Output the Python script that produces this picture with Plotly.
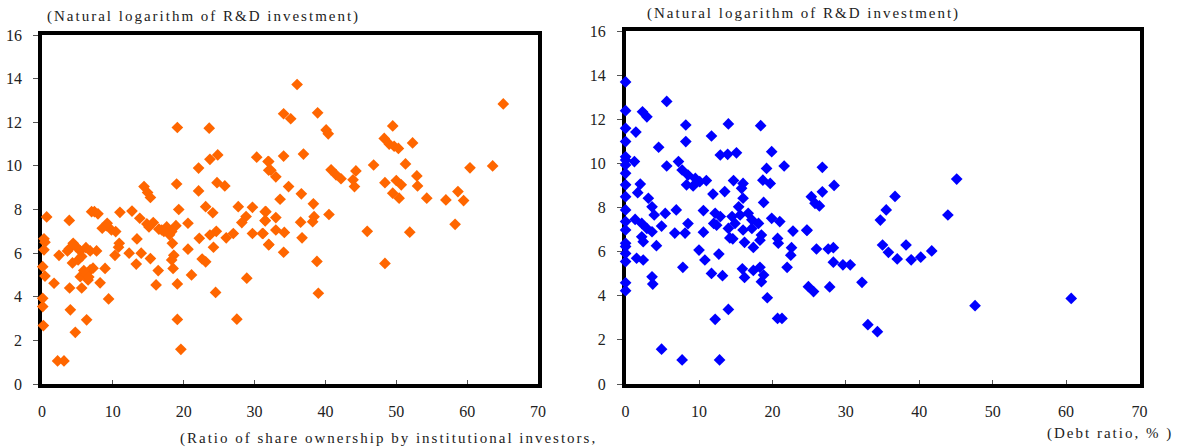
import plotly.graph_objects as go

# Left panel: institutional ownership ratio (%) vs ln(R&D investment)
own_x = [
    19.1, 23.6, 24.8, 23.7, 22.1, 30.3, 31.9, 32.0, 19.0, 22.1, 14.4, 14.9, 15.3,
    24.7, 25.8, 19.3, 23.1, 24.1, 27.7, 29.7, 28.8, 28.2, 31.5, 31.5, 32.0, 29.7,
    31.1, 27.0, 26.0, 24.6, 23.7, 22.2, 24.2, 20.6, 20.6, 21.1, 22.6, 23.1, 24.5,
    28.9, 27.5, 19.1, 19.6, 19.1, 18.5, 18.6, 18.3, 18.4, 16.9, 17.6, 18.3, 18.9,
    18.0, 15.7, 14.8, 15.1, 13.8, 12.7, 11.0, 13.4, 14.0, 15.3, 13.3, 16.4, 16.1,
    10.9, 10.8, 10.3, 9.8, 10.4, 9.1, 8.5, 9.2, 7.0, 7.9, 3.85, 0.66, 0.28, 0.42,
    0.28, 0.1, 0.42, 0.1, 0.1, 0.19, 2.2, 3.1, 1.7, 2.4, 3.85, 4.4, 3.6, 5.4, 6.2,
    6.8, 7.7, 4.3, 5.1, 5.6, 3.9, 5.6, 5.4, 6.1, 6.8, 7.2, 8.2, 6.5, 8.9, 9.4, 4.0,
    6.3, 4.7, 7.4, 5.9, 4.8, 6.6, 16.5, 17.2, 12.3,
    36.0, 34.1, 35.1, 38.9, 40.1, 40.4, 65.1, 49.5, 48.3, 49.0, 49.7, 50.3, 52.3,
    34.1, 36.9, 32.0, 32.3, 33.0, 34.8, 36.6, 33.6, 38.3, 31.6, 33.0, 31.5, 33.0,
    34.2, 31.2, 36.5, 38.4, 38.2, 40.5, 36.7, 32.0, 34.1, 38.8, 39.0, 46.8, 40.8,
    41.5, 42.2, 44.3, 43.9, 44.1, 51.3, 52.9, 53.0, 48.4, 50.0, 50.7, 49.5, 50.4,
    54.3, 57.0, 58.7, 59.5, 60.4, 63.6, 58.3, 45.9, 51.9, 48.4,
]
own_y = [
    11.76, 11.73, 10.5, 10.3, 9.9, 10.4, 10.2, 9.8, 9.17, 8.85, 9.05, 8.78, 8.55,
    9.23, 9.08, 8.0, 8.13, 7.85, 8.13, 8.1, 7.68, 7.4, 7.9, 7.5, 6.4, 6.9,
    6.9, 6.9, 6.7, 7.0, 6.83, 6.68, 6.27, 7.37, 6.18, 5.0, 5.73, 5.6, 4.2,
    4.85, 2.97, 2.96, 1.59, 4.59, 5.3, 5.9, 5.69, 6.45, 7.06, 7.2, 6.99, 7.26,
    6.84, 7.4, 7.34, 7.2, 7.6, 7.93, 7.87, 6.65, 6.0, 5.75, 5.5, 5.2, 4.54,
    6.45, 6.27, 5.9, 7.06, 6.99, 7.26, 7.14, 7.37, 7.9, 7.8, 7.5, 7.66, 6.66, 6.5,
    6.15, 5.38, 4.95, 3.93, 3.55, 2.68, 1.06, 1.06, 4.62, 5.9, 6.2, 6.45, 6.1, 6.1, 6.25,
    6.1, 6.1, 5.55, 5.69, 5.85, 4.4, 4.4, 4.92, 5.07, 5.23, 5.31, 4.64, 4.77, 5.3, 3.9, 3.4,
    2.94, 2.37, 7.9, 5.2, 6.3, 4.9, 7.1, 7.0, 6.0,
    13.73, 12.39, 12.16, 12.43, 11.65, 11.47, 12.84, 11.83, 11.26, 11.0, 10.9, 10.8, 11.05,
    10.45, 10.54, 10.2, 9.8, 9.5, 9.05, 8.72, 8.47, 8.26, 7.9, 7.63, 7.48, 7.06,
    6.95, 6.9, 7.42, 7.67, 7.44, 7.77, 6.7, 6.38, 6.04, 5.62, 4.16, 10.04, 9.82,
    9.59, 9.41, 9.77, 9.36, 9.05, 10.09, 9.54, 9.08, 9.23, 9.33, 9.13, 8.75, 8.52,
    8.52, 8.44, 8.82, 8.41, 9.91, 10.0, 7.32, 7.0, 6.96, 5.53,
]

# Right panel: debt ratio (%) vs ln(R&D investment)
debt_x = [
    0, 0, 0, 0, 0, 0, 0, 0, 0, 0, 0, 0, 0, 0, 0, 0, 0, 0, 0,
    5.6, 2.3, 2.9, 8.2, 14.0, 18.4, 1.4, 11.7, 8.2, 4.5, 12.9, 13.9, 15.1, 19.9,
    1.2, 5.6, 7.2, 7.7, 8.5, 9.5, 10.1, 11.0, 8.3, 9.2, 19.2, 21.6, 18.7, 19.7,
    14.7, 16.0, 15.8, 13.5, 11.9, 2.0, 1.65, 3.1, 3.6, 3.9, 5.4, 6.9, 16.0, 15.4,
    15.6, 18.8, 10.6, 12.2, 12.9, 12.0, 14.5, 14.9, 16.7, 17.2, 18.1, 19.9, 21.0,
    14.0, 16.0, 17.2, 14.2, 14.6, 18.5, 18.3, 20.7, 20.8, 22.8, 24.7, 1.3, 2.2,
    2.9, 3.6, 2.2, 2.4, 4.9, 6.7, 8.1, 8.5, 10.6, 12.4, 4.2, 16.2, 17.4, 22.6,
    22.5, 1.5, 2.4, 10.0, 12.7, 10.8, 7.8, 3.6, 3.7, 11.7, 13.2, 15.9, 16.2,
    17.4, 18.3, 18.8, 18.5, 22.0, 19.3, 14.0, 12.2, 20.7, 21.3, 4.9, 7.7, 12.8,
    26.8, 28.4, 26.8, 25.3, 25.8, 26.4, 36.7, 35.5, 34.7, 45.1, 43.9, 24.7,
    26.0, 27.6, 28.3, 28.3, 29.6, 30.6, 32.2, 24.9, 25.6, 27.8, 35.0, 35.8,
    38.2, 37.0, 38.9, 40.2, 41.7, 47.6, 33.0, 34.3, 60.7,
]
debt_y = [
    13.69, 12.39, 11.59, 10.99, 10.3, 10.15, 9.93, 9.55, 9.03, 8.49, 7.89, 7.36,
    6.98, 6.38, 6.23, 5.92, 5.55, 4.59, 4.23,
    12.81, 12.34, 12.11, 11.74, 11.79, 11.71, 11.42, 11.24, 10.99, 10.73, 10.38, 10.41, 10.48, 10.53,
    10.08, 9.88, 10.08, 9.7, 9.47, 9.32, 9.17, 9.22, 9.03, 8.98, 9.77, 9.88, 9.24, 9.09,
    9.22, 9.09, 8.87, 8.72, 8.61, 9.06, 8.67, 8.42, 8.03, 7.66, 7.73, 7.89, 8.42, 8.03,
    7.66, 8.23, 7.86, 7.74, 7.59, 7.28, 7.59, 7.28, 7.74, 7.44, 7.28, 7.51, 7.36,
    7.05, 6.98, 7.05, 6.62, 6.58, 6.75, 6.52, 6.6, 6.38, 6.93, 6.96, 7.46, 7.28,
    7.05, 6.9, 6.67, 6.45, 7.16, 6.84, 6.84, 7.27, 6.88, 7.2, 6.27, 6.42, 6.19, 6.18,
    5.84, 5.7, 5.62, 6.07, 5.89, 5.62, 5.29, 4.86, 4.53, 5.01, 4.91, 5.22, 4.83,
    5.15, 5.29, 4.94, 4.64, 5.29, 3.91, 3.38, 2.93, 2.97, 2.97, 1.58, 1.09, 1.09,
    9.82, 9.0, 8.71, 8.49, 8.19, 8.07, 8.5, 7.89, 7.43, 9.29, 7.66, 6.98,
    6.12, 6.12, 6.18, 5.52, 5.4, 5.4, 4.61, 4.41, 4.19, 4.4, 6.3, 5.97,
    6.3, 5.67, 5.63, 5.75, 6.03, 3.55, 2.69, 2.37, 3.88,
]

x_ticks = [0, 10, 20, 30, 40, 50, 60, 70]
y_ticks = [0, 2, 4, 6, 8, 10, 12, 14, 16]

SERIF = "Liberation Serif"
W, H = 1178, 447

fig = go.Figure()
fig.add_trace(go.Scatter(
    x=own_x, y=own_y, mode="markers", xaxis="x", yaxis="y",
    marker=dict(symbol="diamond", size=9, color="#FF6600", line=dict(width=0)),
    cliponaxis=False, showlegend=False, hoverinfo="x+y",
))
fig.add_trace(go.Scatter(
    x=debt_x, y=debt_y, mode="markers", xaxis="x2", yaxis="y2",
    marker=dict(symbol="diamond", size=9, color="#0000FF", line=dict(width=0)),
    cliponaxis=False, showlegend=False, hoverinfo="x+y",
))

def xaxis_style(domain, anchor):
    return dict(
        domain=domain, anchor=anchor, range=[0, 70], tickvals=x_ticks,
        automargin=False,
        showgrid=False, zeroline=False, showline=True, mirror=True,
        linecolor="black", linewidth=3.5, ticks="inside", ticklen=4,
        tickwidth=1, tickcolor="#555", layer="below traces",
        tickfont=dict(family=SERIF, size=16, color="#222"),
        ticklabelstandoff=10,
    )

def yaxis_style(domain, anchor):
    return dict(
        domain=domain, anchor=anchor, range=[0, 16], tickvals=y_ticks,
        automargin=False,
        showgrid=False, zeroline=False, showline=True, mirror=True,
        linecolor="black", linewidth=3.5, ticks="outside", ticklen=5,
        tickwidth=1, tickcolor="#555", layer="below traces",
        tickfont=dict(family=SERIF, size=16, color="#222"),
        ticklabelstandoff=8,
    )

fig.update_layout(
    template="none",
    width=W, height=H, autosize=False,
    margin=dict(l=0, r=0, t=0, b=0),
    paper_bgcolor="white", plot_bgcolor="white",
    xaxis=xaxis_style([42 / W, 538 / W], "y"),
    yaxis=yaxis_style([1 - 384 / H, 1 - 35 / H], "x"),
    xaxis2=xaxis_style([625.6 / W, 1139.5 / W], "y2"),
    yaxis2=yaxis_style([1 - 384 / H, 1 - 31 / H], "x2"),
)

title_font = dict(family=SERIF, size=15, color="#222")
labels = [
    ("(Natural logarithm of R&D investment)", 203.5, 16.5),
    ("(Natural logarithm of R&D investment)", 803.5, 13.5),
    ("(Ratio of share ownership by institutional investors,", 388, 438),
    ("(Debt ratio, % )", 1109.5, 433),
]
for text, cx, cy in labels:
    fig.add_annotation(
        text=text, xref="paper", yref="paper", x=cx / W, y=1 - cy / H,
        xanchor="center", yanchor="middle", showarrow=False, font=title_font,
    )

# widen the tracking of the axis captions
spacing_js = """
document.querySelectorAll('.annotation-text').forEach(function(t){
    t.style.letterSpacing = '2px';
});
"""
fig.write_html("out.html", post_script=spacing_js)
